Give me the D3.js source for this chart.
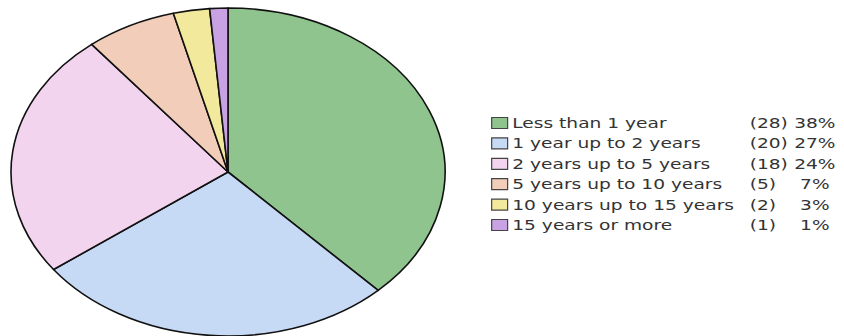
<!DOCTYPE html>
<html>
<head>
<meta charset="utf-8">
<script src="https://cdn.jsdelivr.net/npm/d3@7"></script>
<style>
  html, body { margin: 0; padding: 0; background: #fff; }
</style>
</head>
<body>
<div id="chart"></div>
<script>
// DATA
const categories = [
	"Less than 1 year",
	"1 year up to 2 years",
	"2 years up to 5 years",
	"5 years up to 10 years",
	"10 years up to 15 years",
	"15 years or more",
];
const counts = [28, 20, 18, 5, 2, 1];
const percents = [38, 27, 24, 7, 3, 1];
const colors = ["#8fc48e", "#c7daf5", "#f3d4ee", "#f2cdb9", "#f3e99c", "#c8a2e2"];

const width = 844,
	height = 336;

// the whole picture is stretched sideways
const sx = 1.33;

const svg = d3
	.select("#chart")
	.append("svg")
	.attr("width", width)
	.attr("height", height);

const data = categories.map((c, i) => ({ category: c, count: counts[i], pct: percents[i] }));

const color = d3.scaleOrdinal().domain(categories).range(colors);

//PIE
const r = 164;
const pie = d3
	.pie()
	.value(d => d.count)
	.sort(null);
const arc = d3.arc().innerRadius(0).outerRadius(r);

const pieGroup = svg.append("g").attr("transform", `translate(228, 172) scale(${(217 / r).toFixed(4)}, 1)`);

pieGroup
	.selectAll("path")
	.data(pie(data))
	.enter()
	.append("path")
	.attr("d", arc)
	.attr("fill", d => color(d.data.category))
	.attr("stroke", "#111")
	.attr("stroke-width", 1.6)
	.attr("stroke-linejoin", "round")
	.attr("vector-effect", "non-scaling-stroke");

//LEGEND
const rowY = d3
	.scalePoint()
	.domain(categories)
	.range([123, 225]);

const legend = svg.append("g").attr("transform", `translate(491, 0) scale(${sx}, 1)`);

const item = legend
	.selectAll(".legend-item")
	.data(data)
	.enter()
	.append("g")
	.attr("class", "legend-item")
	.attr("transform", d => `translate(0, ${rowY(d.category)})`);

item
	.append("rect")
	.attr("x", 0.5)
	.attr("y", -5.5)
	.attr("width", 12)
	.attr("height", 11)
	.attr("fill", d => color(d.category))
	.attr("stroke", "#444")
	.attr("stroke-width", 1.2)
	.attr("vector-effect", "non-scaling-stroke");

const textStyle = sel =>
	sel
		.attr("dy", "0.36em")
		.style("font-family", "'DejaVu Sans', Verdana, sans-serif")
		.style("font-size", "14px")
		.style("fill", "#333");

item
	.append("text")
	.attr("x", 16)
	.text(d => d.category)
	.call(textStyle);

item
	.append("text")
	.attr("x", 194.5)
	.text(d => `(${d.count})`)
	.call(textStyle);

item
	.append("text")
	.attr("x", 243.5)
	.attr("text-anchor", "middle")
	.text(d => `${d.pct}%`)
	.call(textStyle);
</script>
</body>
</html>
